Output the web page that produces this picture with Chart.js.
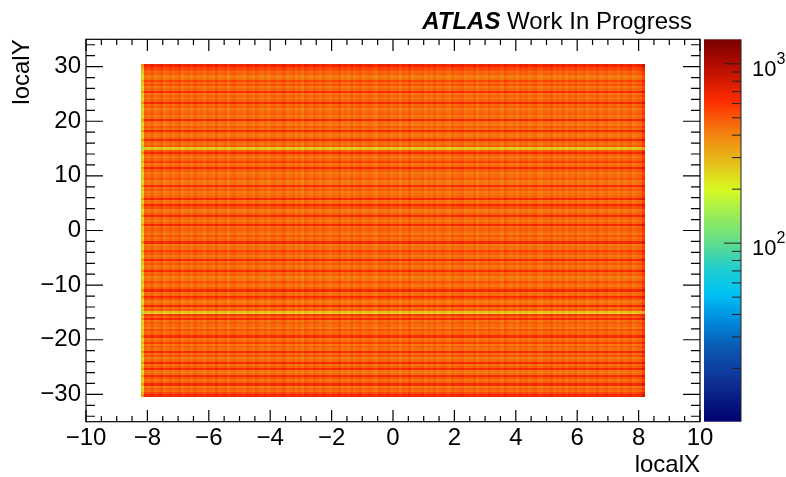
<!DOCTYPE html>
<html>
<head>
<meta charset="utf-8">
<script src="https://cdn.jsdelivr.net/npm/chart.js@4.4.1/dist/chart.umd.min.js"></script>
<style>
  html, body { margin: 0; padding: 0; background: #fff; overflow: hidden; }
  #hitmap { display: block; }
</style>
</head>
<body>
<canvas id="hitmap" width="786" height="477"></canvas>
<script>
// hit map binning: 164 columns of 0.1 in localX, 152 rows of 0.4 in localY
const xBinLow = -8.2, xBinWidth = 0.1;
const yBinLow = -30.4, yBinWidth = 0.4;

// entries per row (bottom row first)
const rowCounts = [
	655, 545, 460, 490, 420, 645, 475, 445, 510, 630,
	455, 430, 640, 490, 445, 650, 465, 420, 525, 460,
	640, 445, 490, 430, 565, 460, 435, 635, 475, 455,
	520, 430, 465, 490, 445, 645, 475, 575, 270, 490,
	445, 655, 465, 420, 510, 640, 460, 445, 650, 490,
	430, 465, 525, 445, 420, 490, 460, 640, 475, 435,
	505, 455, 645, 465, 430, 490, 565, 445, 460, 420,
	640, 475, 445, 510, 430, 465, 490, 455, 655, 475,
	435, 460, 640, 490, 445, 420, 520, 645, 460, 435,
	650, 475, 455, 430, 490, 460, 640, 445, 420, 510,
	465, 455, 430, 490, 645, 460, 445, 565, 475, 430,
	490, 640, 510, 270, 490, 445, 465, 655, 475, 435,
	460, 645, 445, 500, 430, 465, 640, 455, 435, 490,
	460, 420, 505, 455, 650, 475, 445, 490, 435, 640,
	465, 430, 520, 460, 560, 445, 420, 490, 465, 535,
	565, 670
];

// relative occupancy per column (left column first)
const colWeights = [
	0.55, 1.03, 0.97, 1.05, 0.95, 1.00, 1.06, 0.94, 0.98, 1.04, 0.96, 1.01, 1.07, 0.93, 0.99, 1.02, 0.95, 1.05, 0.98, 1.01,
	0.93, 1.04, 1.00, 0.96, 1.07, 0.95, 0.99, 1.03, 0.92, 1.02, 1.05, 0.97, 0.99, 0.94, 1.04, 1.01, 0.96, 1.06, 0.98, 0.95,
	1.02, 0.93, 1.01, 1.04, 0.96, 0.99, 1.07, 0.94, 0.98, 1.03, 0.95, 1.02, 0.92, 1.05, 0.99, 0.96, 1.04, 1.00, 0.95, 1.05,
	0.97, 0.93, 1.02, 0.98, 1.07, 0.95, 1.00, 0.93, 1.04, 0.96, 1.01, 1.06, 0.94, 0.99, 1.03, 0.96, 0.92, 1.04, 1.01, 0.98,
	1.05, 0.95, 0.99, 1.02, 0.92, 1.02, 0.97, 1.07, 0.95, 1.00, 0.98, 1.04, 0.93, 1.01, 0.96, 1.05, 0.94, 0.99, 1.03, 0.96,
	0.93, 1.04, 0.98, 1.01, 1.06, 0.95, 0.99, 0.96, 1.04, 0.92, 1.02, 1.00, 0.95, 1.05, 0.97, 0.99, 1.02, 0.94, 1.07, 0.98,
	0.96, 1.01, 0.93, 1.04, 0.98, 1.03, 0.95, 1.00, 1.05, 0.96, 0.93, 1.02, 0.99, 1.06, 0.95, 1.01, 0.97, 1.04, 0.94, 1.02,
	0.98, 1.05, 0.96, 0.99, 1.03, 0.93, 1.01, 0.98, 1.07, 0.95, 1.00, 1.04, 0.96, 0.99, 1.02, 0.94, 1.04, 0.97, 1.01, 1.06,
	0.96, 1.02, 1.05, 1.25
];

const xTicks = [-10, -8, -6, -4, -2, 0, 2, 4, 6, 8, 10];
const yTicks = [-30, -20, -10, 0, 10, 20, 30];
const zRange = [10.1, 1370];
const zLabels = [100, 1000];

// rainbow palette, position 0 (bottom) .. 1 (top)
const paletteStops = [
	[0.000, [0, 0, 110]],
	[0.109, [15, 50, 150]],
	[0.196, [10, 90, 180]],
	[0.266, [0, 140, 220]],
	[0.336, [0, 195, 245]],
	[0.397, [30, 205, 210]],
	[0.466, [95, 220, 140]],
	[0.536, [150, 235, 90]],
	[0.606, [215, 250, 35]],
	[0.684, [230, 185, 25]],
	[0.763, [245, 120, 15]],
	[0.837, [255, 45, 0]],
	[0.937, [175, 10, 0]],
	[1.000, [120, 0, 0]]
];

const FONT = "'Liberation Sans', Arial, sans-serif";

function paletteColor(f) {
	f = Math.min(1, Math.max(0, f));
	for (let k = 1; k < paletteStops.length; k++) {
		const [f1, c1] = paletteStops[k];
		if (f <= f1) {
			const [f0, c0] = paletteStops[k - 1];
			const t = (f - f0) / (f1 - f0);
			const c = c0.map((v, i) => Math.round(v + (c1[i] - v) * t));
			return `rgb(${c[0]},${c[1]},${c[2]})`;
		}
	}
	const c = paletteStops[paletteStops.length - 1][1];
	return `rgb(${c[0]},${c[1]},${c[2]})`;
}

function axisLabel(v) {
	return v < 0 ? "\u2212" + Math.abs(v) : String(v);
}

function line(ctx, x0, y0, x1, y1) {
	ctx.moveTo(x0, y0);
	ctx.lineTo(x1, y1);
}

const hitmapPlugin = {
	id: "hitmap",
	beforeDatasetsDraw(chart) {
		const { ctx } = chart;
		const { x, y, z } = chart.scales;
		ctx.save();
		rowCounts.forEach((rc, j) => {
			const yTop = Math.round(y.getPixelForValue(yBinLow + (j + 1) * yBinWidth));
			const yBot = Math.round(y.getPixelForValue(yBinLow + j * yBinWidth));
			colWeights.forEach((w, i) => {
				const x0 = Math.round(x.getPixelForValue(xBinLow + i * xBinWidth));
				const x1 = Math.round(x.getPixelForValue(xBinLow + (i + 1) * xBinWidth));
				const pz = z.getPixelForValue(rc * w);
				ctx.fillStyle = paletteColor((z.bottom - pz) / (z.bottom - z.top));
				ctx.fillRect(x0, yTop, x1 - x0, yBot - yTop);
			});
		});
		ctx.restore();
	},
	afterDraw(chart) {
		const { ctx, chartArea: a } = chart;
		const { x, y, z } = chart.scales;
		ctx.save();
		ctx.strokeStyle = "#000";
		ctx.lineWidth = 1.2;

		// frame
		ctx.strokeRect(a.left, a.top, a.right - a.left, a.bottom - a.top);

		// ticks on all four sides, pointing inwards
		ctx.beginPath();
		for (let k = -20; k <= 20; k++) {
			const px = x.getPixelForValue(k * 0.5);
			const len = k % 4 === 0 ? 11.7 : 5.7;
			line(ctx, px, a.bottom, px, a.bottom - len);
			line(ctx, px, a.top, px, a.top + len);
		}
		for (let k = -17; k <= 17; k++) {
			const py = y.getPixelForValue(k * 2);
			const len = k % 5 === 0 ? 17 : 9;
			line(ctx, a.left, py, a.left + len, py);
			line(ctx, a.right, py, a.right - len, py);
		}
		ctx.stroke();

		// colour bar
		const barL = a.right + 4, barR = a.right + 41;
		const grad = ctx.createLinearGradient(0, z.bottom, 0, z.top);
		paletteStops.forEach(([f, c]) => grad.addColorStop(f, `rgb(${c[0]},${c[1]},${c[2]})`));
		ctx.fillStyle = grad;
		ctx.fillRect(barL, z.top, barR - barL, z.bottom - z.top);

		ctx.strokeStyle = "#222";
		ctx.lineWidth = 1;
		ctx.beginPath();
		line(ctx, barR, z.top, barR, z.bottom);
		for (let dec = 10; dec <= 1000; dec *= 10) {
			for (let m = 1; m <= 9; m++) {
				const v = m * dec;
				if (v < zRange[0] || v > zRange[1]) continue;
				const pz = z.getPixelForValue(v);
				line(ctx, barR, pz, barR - (m === 1 ? 17 : 9), pz);
			}
		}
		ctx.stroke();

		// colour bar labels, 10^n
		ctx.fillStyle = "#000";
		ctx.textAlign = "left";
		ctx.textBaseline = "alphabetic";
		zLabels.forEach((v) => {
			const pz = z.getPixelForValue(v);
			ctx.font = `22px ${FONT}`;
			ctx.fillText("10", barR + 11, pz + 12);
			const w = ctx.measureText("10").width;
			ctx.font = `16px ${FONT}`;
			ctx.fillText(String(Math.round(Math.log10(v))), barR + 11 + w, pz);
		});

		// experiment label
		ctx.font = `italic bold 24px ${FONT}`;
		const w1 = ctx.measureText("ATLAS").width;
		ctx.font = `24px ${FONT}`;
		const w2 = ctx.measureText(" Work In Progress").width;
		const x0 = a.right - 8 - w1 - w2;
		ctx.font = `italic bold 24px ${FONT}`;
		ctx.fillText("ATLAS", x0, 29);
		ctx.font = `24px ${FONT}`;
		ctx.fillText(" Work In Progress", x0 + w1, 29);
		ctx.restore();
	}
};

const tickFont = { family: FONT, size: 24 };
const titleFont = { family: FONT, size: 24, lineHeight: 1 };

new Chart(document.getElementById("hitmap"), {
	type: "scatter",
	data: { datasets: [{ data: [] }] },
	options: {
		responsive: false,
		animation: false,
		events: [],
		layout: { padding: { top: 39.3, left: 0, right: 0, bottom: 0 } },
		plugins: { legend: { display: false }, tooltip: { enabled: false } },
		scales: {
			x: {
				type: "linear",
				position: "bottom",
				min: -10,
				max: 10,
				afterBuildTicks: (s) => { s.ticks = xTicks.map((v) => ({ value: v })); },
				afterFit: (s) => { s.height = 55.3; },
				grid: { display: false, drawTicks: false },
				border: { display: false },
				ticks: { font: tickFont, color: "#000", padding: 2, maxRotation: 0, autoSkip: false, callback: axisLabel },
				title: { display: true, text: "localX", align: "end", color: "#000", font: titleFont, padding: { top: 0, bottom: 0 } }
			},
			y: {
				type: "linear",
				position: "left",
				min: -35,
				max: 35,
				afterBuildTicks: (s) => { s.ticks = yTicks.map((v) => ({ value: v })); },
				afterFit: (s) => { s.width = 86; },
				grid: { display: false, drawTicks: false },
				border: { display: false },
				ticks: { font: tickFont, color: "#000", padding: 5, autoSkip: false, callback: axisLabel },
				title: { display: true, text: "localY", align: "end", color: "#000", font: titleFont, padding: { top: 10, bottom: 0 } }
			},
			z: {
				type: "logarithmic",
				position: "right",
				min: zRange[0],
				max: zRange[1],
				afterFit: (s) => { s.width = 86; },
				grid: { display: false, drawTicks: false },
				border: { display: false },
				ticks: { display: false }
			}
		}
	},
	plugins: [hitmapPlugin]
});
</script>
</body>
</html>
